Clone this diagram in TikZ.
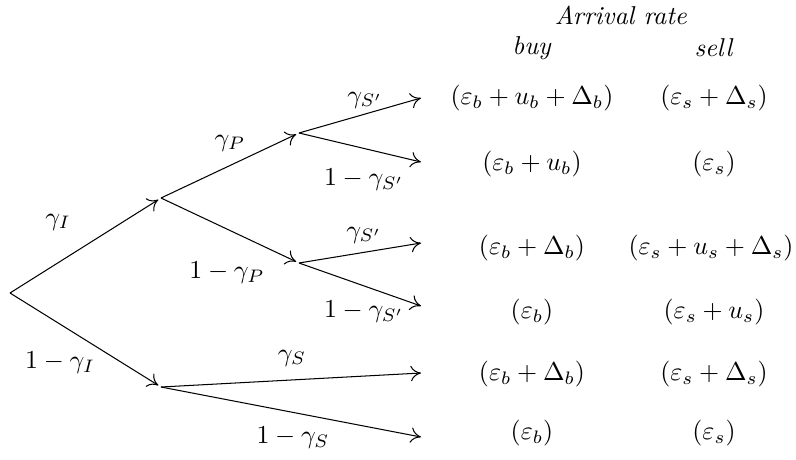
\documentclass[tikz,border=0pt]{standalone}
\usepackage{amsmath}
\usepackage{amssymb}
\usetikzlibrary{arrows.meta,positioning}

\begin{document}
\begin{tikzpicture}[x=0.0136cm, y=-0.0136cm]
    \tikzstyle{branch}=[-{To[length=4pt,width=6pt]}, shorten >=1.2pt]
    \tikzstyle{leafarrow}=[-{To[length=4pt,width=6pt]}]
    \tikzstyle{prob}=[inner sep=1pt]
    \tikzstyle{rate}=[inner sep=1pt]

    \useasboundingbox (0,0) rectangle (796,459);

    % tree points
    \coordinate (root) at (10,293);
    \coordinate (I)  at (161,198);
    \coordinate (nI) at (161,387);
    \coordinate (P)  at (299,133);
    \coordinate (nP) at (299,263);

    % free ends of the last arrows
    \coordinate (e1) at (421,98);
    \coordinate (e2) at (421,162);
    \coordinate (e3) at (421,243);
    \coordinate (e4) at (421,306);
    \coordinate (e5) at (421,373);
    \coordinate (e6) at (421,437);

    \draw[branch] (root) -- (I);
    \draw[branch] (root) -- (nI);
    \draw[branch] (I) -- (P);
    \draw[branch] (I) -- (nP);
    \draw[leafarrow] (P) -- (e1);
    \draw[leafarrow] (P) -- (e2);
    \draw[leafarrow] (nP) -- (e3);
    \draw[leafarrow] (nP) -- (e4);
    \draw[leafarrow] (nI) -- (e5);
    \draw[leafarrow] (nI) -- (e6);

    % branch probabilities
    \node[prob] (gI)   at (58,222)  {$\gamma_I$};
    \node[prob] (ngI)  at (60,363)  {$1-\gamma_I$};
    \node[prob] (gP)   at (230,143) {$\gamma_P$};
    \node[prob] (ngP)  at (227,273) {$1-\gamma_P$};
    \node[prob] (gS1)  at (365,100) {$\gamma_{S'}$};
    \node[prob] (ngS1) at (364,180) {$1-\gamma_{S'}$};
    \node[prob] (gS2)  at (364,235) {$\gamma_{S'}$};
    \node[prob] (ngS2) at (364,312) {$1-\gamma_{S'}$};
    \node[prob] (gS)   at (292,358) {$\gamma_S$};
    \node[prob] (ngS)  at (293,438) {$1-\gamma_S$};

    % table of arrival rates
    \node (head) at (621,15) {\textit{Arrival rate}};
    \node (buy)  at (532,48) {\textit{buy}};
    \node (sell) at (714,48) {\textit{sell}};

    \node[rate] (b1) at (532,98)  {$(\varepsilon_b+u_b+\Delta_b)$};
    \node[rate] (b2) at (532,164) {$(\varepsilon_b+u_b)$};
    \node[rate] (b3) at (532,248) {$(\varepsilon_b+\Delta_b)$};
    \node[rate] (b4) at (532,312) {$(\varepsilon_b)$};
    \node[rate] (b5) at (532,374) {$(\varepsilon_b+\Delta_b)$};
    \node[rate] (b6) at (532,433) {$(\varepsilon_b)$};

    \node[rate] (s1) at (714,98)  {$(\varepsilon_s+\Delta_s)$};
    \node[rate] (s2) at (714,164) {$(\varepsilon_s)$};
    \node[rate] (s3) at (711,248) {$(\varepsilon_s+u_s+\Delta_s)$};
    \node[rate] (s4) at (714,312) {$(\varepsilon_s+u_s)$};
    \node[rate] (s5) at (714,374) {$(\varepsilon_s+\Delta_s)$};
    \node[rate] (s6) at (714,433) {$(\varepsilon_s)$};
\end{tikzpicture}
\end{document}
